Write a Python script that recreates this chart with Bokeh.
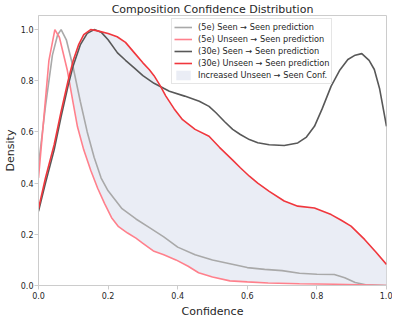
from bokeh.plotting import figure
from bokeh.embed import file_html
from bokeh.resources import INLINE
from bokeh.models import Legend, LegendItem, FixedTicker, NumeralTickFormatter, Range1d

# (5e) Seen -> Seen prediction
x_5e_seen = [0.00, 0.02, 0.04, 0.055, 0.065, 0.08, 0.10, 0.12, 0.14, 0.16, 0.18, 0.20, 0.24, 0.28,
             0.32, 0.36, 0.40, 0.45, 0.50, 0.55, 0.60, 0.65, 0.70, 0.75, 0.80, 0.85, 0.88, 0.91, 0.94, 1.00]
y_5e_seen = [0.47, 0.70, 0.90, 0.98, 1.00, 0.96, 0.85, 0.72, 0.60, 0.50, 0.42, 0.37, 0.30, 0.26,
             0.225, 0.19, 0.15, 0.12, 0.10, 0.085, 0.07, 0.063, 0.058, 0.048, 0.044, 0.043, 0.03, 0.012, 0.003, 0.0]

# (5e) Unseen -> Seen prediction
x_5e_unseen = [0.00, 0.015, 0.03, 0.047, 0.06, 0.083, 0.10, 0.112, 0.13, 0.15, 0.17, 0.19, 0.21, 0.23,
               0.256, 0.28, 0.30, 0.33, 0.36, 0.395, 0.43, 0.46, 0.50, 0.55, 0.60, 0.66, 0.75, 0.85, 0.95, 1.00]
y_5e_unseen = [0.42, 0.65, 0.88, 1.00, 0.97, 0.84, 0.71, 0.62, 0.53, 0.45, 0.38, 0.32, 0.265, 0.23,
               0.205, 0.185, 0.165, 0.135, 0.12, 0.10, 0.075, 0.05, 0.033, 0.018, 0.014, 0.01, 0.007, 0.005, 0.002, 0.0]

# (30e) Seen -> Seen prediction
x_30e_seen = [0.00, 0.02, 0.045, 0.065, 0.085, 0.10, 0.12, 0.14, 0.16, 0.18, 0.20, 0.227, 0.25, 0.275,
              0.30, 0.332, 0.376, 0.42, 0.462, 0.49, 0.51, 0.535, 0.558, 0.58, 0.606, 0.63, 0.663, 0.706,
              0.745, 0.77, 0.793, 0.815, 0.841, 0.865, 0.889, 0.91, 0.929, 0.95, 0.965, 0.98, 1.00]
y_30e_seen = [0.29, 0.40, 0.53, 0.66, 0.78, 0.86, 0.94, 0.985, 1.00, 0.99, 0.96, 0.909, 0.88, 0.85,
              0.82, 0.79, 0.759, 0.74, 0.72, 0.70, 0.675, 0.64, 0.61, 0.59, 0.57, 0.558, 0.55, 0.547,
              0.557, 0.58, 0.622, 0.69, 0.779, 0.84, 0.883, 0.90, 0.906, 0.88, 0.844, 0.77, 0.622]

# (30e) Unseen -> Seen prediction
x_30e_unseen = [0.00, 0.02, 0.045, 0.065, 0.085, 0.10, 0.115, 0.13, 0.15, 0.17, 0.20, 0.226, 0.25, 0.275,
                0.30, 0.318, 0.332, 0.35, 0.366, 0.39, 0.414, 0.45, 0.49, 0.52, 0.558, 0.58, 0.606, 0.63,
                0.663, 0.706, 0.745, 0.793, 0.841, 0.87, 0.898, 0.937, 0.97, 1.00]
y_30e_unseen = [0.30, 0.42, 0.55, 0.68, 0.80, 0.88, 0.94, 0.98, 1.00, 0.995, 0.985, 0.972, 0.95, 0.91,
                0.87, 0.844, 0.82, 0.78, 0.74, 0.69, 0.648, 0.61, 0.583, 0.54, 0.49, 0.46, 0.427, 0.40,
                0.368, 0.33, 0.31, 0.303, 0.277, 0.255, 0.232, 0.18, 0.13, 0.082]

x_ticks = [0.0, 0.2, 0.4, 0.6, 0.8, 1.0]
y_ticks = [0.0, 0.2, 0.4, 0.6, 0.8, 1.0]

labels = ["(5e) Seen \u2192 Seen prediction",
          "(5e) Unseen \u2192 Seen prediction",
          "(30e) Seen \u2192 Seen prediction",
          "(30e) Unseen \u2192 Seen prediction",
          "Increased Unseen \u2192 Seen Conf."]

FONT = "DejaVu Sans"
TXT = "#262626"
GRID = "#cccccc"

# fill between 5e unseen and 30e unseen (where 30e unseen is higher), on a union grid
def interp(xs, ys, x):
    for i in range(len(xs) - 1):
        if xs[i] <= x <= xs[i + 1]:
            t = (x - xs[i]) / (xs[i + 1] - xs[i])
            return ys[i] + t * (ys[i + 1] - ys[i])
    return ys[-1]

xf = sorted(set(x_5e_unseen) | set(x_30e_unseen))
lo = [interp(x_5e_unseen, y_5e_unseen, x) for x in xf]
hi = [max(interp(x_30e_unseen, y_30e_unseen, x), l) for x, l in zip(xf, lo)]

p = figure(frame_width=348, frame_height=270, output_backend="svg", toolbar_location=None,
           x_range=Range1d(0, 1), y_range=Range1d(0, 1.055),
           min_border_left=31, min_border_right=6, min_border_top=0, min_border_bottom=0)

p.title.text = "Composition Confidence Distribution"
p.title.text_font = FONT
p.title.text_font_size = "11px"
p.title.text_font_style = "normal"
p.title.text_color = TXT
p.title.align = "center"
p.title.standoff = 0

f = p.varea(x=xf, y1=lo, y2=hi, fill_color="#eaedf5", fill_alpha=1.0)
l1 = p.line(x_5e_seen, y_5e_seen, line_color="#a9a9a9", line_width=1.6)
l2 = p.line(x_5e_unseen, y_5e_unseen, line_color="#ff808c", line_width=1.6)
l3 = p.line(x_30e_seen, y_30e_seen, line_color="#585858", line_width=1.6)
l4 = p.line(x_30e_unseen, y_30e_unseen, line_color="#f0373d", line_width=1.6)

legend = Legend(items=[LegendItem(label=labels[0], renderers=[l1]),
                       LegendItem(label=labels[1], renderers=[l2]),
                       LegendItem(label=labels[2], renderers=[l3]),
                       LegendItem(label=labels[3], renderers=[l4]),
                       LegendItem(label=labels[4], renderers=[f])],
                location=(133, 201))
legend.label_text_font = FONT
legend.label_text_font_size = "8.2px"
legend.label_text_color = TXT
legend.label_height = 12
legend.glyph_height = 12
legend.glyph_width = 18
legend.label_standoff = 6
legend.spacing = 0
legend.padding = 2
legend.margin = 0
legend.border_line_color = GRID
legend.background_fill_alpha = 0.85
p.add_layout(legend, "center")

p.grid.visible = False
p.outline_line_color = GRID
p.outline_line_width = 1

for ax in (p.xaxis[0], p.yaxis[0]):
    ax.axis_line_color = GRID
    ax.major_tick_line_color = GRID
    ax.major_tick_out = 4
    ax.major_tick_in = 0
    ax.minor_tick_line_color = None
    ax.major_label_text_font = FONT
    ax.major_label_text_font_size = "8px"
    ax.major_label_text_color = TXT
    ax.major_label_standoff = 2
    ax.axis_label_text_font = FONT
    ax.axis_label_text_font_size = "11px"
    ax.axis_label_text_font_style = "normal"
    ax.axis_label_text_color = TXT
    ax.axis_label_standoff = 3
    ax.formatter = NumeralTickFormatter(format="0.0")

p.yaxis[0].axis_label_standoff = 1
p.yaxis[0].major_label_standoff = 1
p.xaxis[0].ticker = FixedTicker(ticks=x_ticks)
p.yaxis[0].ticker = FixedTicker(ticks=y_ticks)
p.xaxis[0].axis_label = "Confidence"
p.yaxis[0].axis_label = "Density"

open("out.html", "w").write(file_html(p, INLINE))
